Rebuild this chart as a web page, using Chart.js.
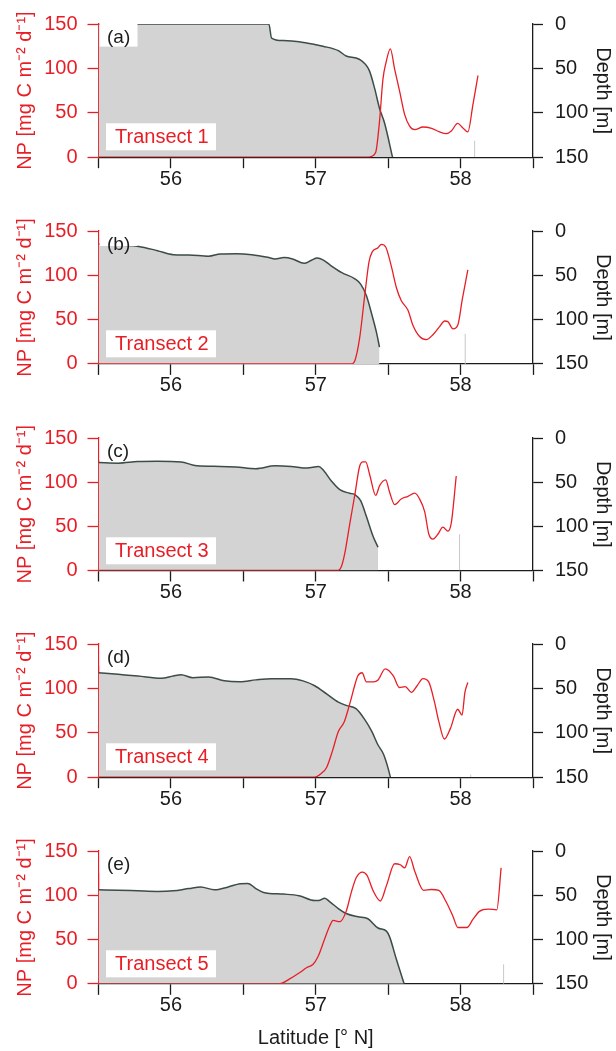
<!DOCTYPE html>
<html><head><meta charset="utf-8">
<script src="https://cdn.jsdelivr.net/npm/chart.js@4.4.1/dist/chart.umd.min.js"></script>
<style>
html,body{margin:0;padding:0;background:#fff;}
#wrap{position:relative;width:616px;height:1051px;overflow:hidden;background:#fff;}
canvas{position:absolute;left:0;}
</style></head><body><div id="wrap"></div>
<script>
// ---------- DATA ----------
const latitudeLabels = [56, 57, 58];
const panelLetters = ['(a)', '(b)', '(c)', '(d)', '(e)'];
const transectNames = ['Transect 1', 'Transect 2', 'Transect 3', 'Transect 4', 'Transect 5'];

// NP [mg C m-2 d-1] along latitude
const npLatA = [55.5, 57.37, 57.385, 57.414, 57.44, 57.464, 57.483, 57.515, 57.545, 57.58, 57.614, 57.648, 57.683, 57.74, 57.80, 57.855, 57.90, 57.936, 57.98, 58.016, 58.05, 58.085, 58.12];
const npA    = [0, 0, 1, 5.5, 40, 88, 105, 122, 99, 73.5, 48, 35, 31, 34, 32.5, 28.5, 26.5, 29.5, 38, 33, 28.5, 59, 92];
const npLatB = [55.5, 57.246, 57.27, 57.303, 57.338, 57.368, 57.39, 57.43, 57.453, 57.483, 57.522, 57.557, 57.59, 57.637, 57.67, 57.717, 57.763, 57.809, 57.855, 57.89, 57.912, 57.947, 57.981, 58.012, 58.05];
const npB    = [0, 0, 3.6, 29, 77, 115.5, 126.5, 131, 135, 132, 110, 86, 71.5, 60.5, 44, 31, 27.5, 33, 42, 48.4, 47.7, 39.6, 44, 73, 106];
const npLatC = [55.5, 57.154, 57.177, 57.2, 57.234, 57.269, 57.303, 57.326, 57.345, 57.372, 57.414, 57.441, 57.483, 57.51, 57.545, 57.59, 57.637, 57.683, 57.717, 57.752, 57.781, 57.809, 57.843, 57.878, 57.912, 57.936, 57.97];
const npC    = [0, 0, 4.4, 19, 52, 85, 118, 123, 123, 108.7, 85, 96, 102.5, 88.5, 74.6, 81, 84, 87.5, 81, 66.6, 41, 35.5, 41, 49, 44.6, 54, 107];
const npLatD = [55.5, 56.993, 57.034, 57.075, 57.115, 57.156, 57.197, 57.238, 57.265, 57.29, 57.32, 57.35, 57.40, 57.43, 57.48, 57.536, 57.577, 57.618, 57.66, 57.70, 57.74, 57.78, 57.82, 57.85, 57.888, 57.93, 57.98, 58.01, 58.03, 58.05];
const npD    = [0, 0, 3.7, 11, 29.4, 51.5, 62.5, 84.5, 101, 114, 117.6, 107.3, 107.3, 109.5, 122, 114, 101, 102, 95.6, 103, 111, 107.3, 84.5, 62.5, 43, 55, 76.5, 70, 95.6, 106.6];
const npLatE = [55.5, 56.75, 56.82, 56.89, 56.936, 56.98, 57.016, 57.062, 57.097, 57.12, 57.166, 57.21, 57.246, 57.28, 57.322, 57.354, 57.395, 57.446, 57.488, 57.545, 57.584, 57.614, 57.648, 57.683, 57.745, 57.798, 57.85, 57.90, 57.947, 57.981, 58.044, 58.085, 58.13, 58.19, 58.25, 58.28];
const npE    = [0, 0, 5.5, 12.7, 18.2, 21.8, 30.9, 50.9, 65.5, 71.6, 70.2, 81.8, 103.6, 120, 126.2, 122.5, 105.5, 93.5, 110.9, 135.6, 134.5, 130.9, 143.6, 127.3, 105.5, 106.5, 105.5, 92.7, 76.4, 63.6, 63.6, 72.7, 81.8, 84.4, 83.6, 130.9];

// Depth [m] profile (grey area) along latitude
const depthLatA = [55.5, 56.676, 56.695, 56.776, 56.885, 56.993, 57.05, 57.156, 57.21, 57.30, 57.37, 57.407, 57.44, 57.476, 57.53];
const depthA    = [0, 0, 15.8, 18.7, 20, 23, 25, 30, 36, 39.7, 52.5, 72.8, 94.8, 112, 150];
const depthLatB = [55.5, 55.777, 55.907, 56.016, 56.124, 56.26, 56.342, 56.45, 56.559, 56.668, 56.72, 56.78, 56.84, 56.92, 56.97, 57.01, 57.05, 57.10, 57.18, 57.27, 57.31, 57.35, 57.39, 57.42, 57.44];
const depthB    = [15, 17.4, 22.2, 26.7, 27, 28.5, 25.9, 25.6, 26.7, 29.6, 31.5, 30, 31.5, 36.5, 33, 30.5, 32.5, 38.5, 47, 54, 60, 73, 96, 115, 131];
const depthLatC = [55.5, 55.636, 55.77, 55.907, 56.07, 56.179, 56.342, 56.45, 56.586, 56.72, 56.83, 56.94, 57.02, 57.05, 57.108, 57.166, 57.234, 57.27, 57.31, 57.35, 57.395, 57.43];
const depthC    = [27.8, 28.5, 26.7, 26.3, 27.1, 31.5, 32.2, 32.9, 34.8, 31.5, 32.2, 34, 32.2, 35.9, 48.7, 58.5, 62.6, 64, 71, 89, 110.9, 123.7];
const depthLatD = [55.5, 55.636, 55.772, 55.934, 56.016, 56.07, 56.152, 56.26, 56.369, 56.477, 56.586, 56.695, 56.83, 56.912, 56.993, 57.075, 57.156, 57.21, 57.278, 57.333, 57.387, 57.428, 57.468, 57.504, 57.515];
const depthD    = [32.4, 34.2, 36, 38.6, 36, 34.6, 37.9, 37.1, 41.5, 42.6, 40.4, 39, 39, 41.5, 47, 56.2, 65.4, 69.1, 72.8, 83.8, 98.5, 113.2, 124.2, 142.6, 150];
const depthLatE = [55.5, 55.636, 55.77, 55.907, 56.016, 56.124, 56.206, 56.30, 56.396, 56.477, 56.532, 56.586, 56.64, 56.776, 56.885, 56.993, 57.02, 57.062, 57.10, 57.156, 57.21, 57.292, 57.36, 57.43, 57.488, 57.51, 57.556, 57.61];
const depthE    = [43.9, 44.3, 45, 45.7, 45, 42.4, 40.6, 43.9, 40.6, 37, 36.6, 42.4, 46.8, 48.7, 50.5, 56, 56, 53.4, 57.8, 65, 70.6, 74.3, 76.5, 87, 90.5, 97, 122, 150];

// thin grey end-of-section marks
const edgeLat   = [58.097, 58.032, 57.993, 58.07, 58.297];
const edgeDepth = [131.5, 116, 109, 147, 128];

// ---------- STYLE / LAYOUT ----------
const RED = 'rgb(232,30,38)';
const INK = '#1c1c1c';
const FILL = 'rgb(211,211,211)';
const BATH = 'rgb(60,76,73)';
const FONT = "'Liberation Sans', Arial, Helvetica, sans-serif";
Chart.defaults.font.family = FONT;
Chart.defaults.font.size = 20;

const plotTops = [20.7, 227.4, 434.0, 640.7, 847.3];
const canvasTops = [0, 207, 414, 620, 827];
const canvasHs = [206, 206, 206, 207, 224];
const plotH = 136.5;
const leftW = 98.5, rightW = 83;
const letterBoxH = [22.6, 15, 22, 22, 22];

const npLats = [npLatA, npLatB, npLatC, npLatD, npLatE];
const nps = [npA, npB, npC, npD, npE];
const dLats = [depthLatA, depthLatB, depthLatC, depthLatD, depthLatE];
const depths = [depthA, depthB, depthC, depthD, depthE];

const labelPlugin = {
  id: 'panelLabel',
  afterDatasetsDraw(chart, args, o) {
    const {ctx, chartArea: a} = chart;
    ctx.save();
    ctx.fillStyle = '#fff';
    ctx.fillRect(a.left + 1, a.top, 38, o.boxH);
    ctx.fillRect(a.left + 7.5, a.top + 99.3, 110, 27);
    ctx.textBaseline = 'middle';
    ctx.textAlign = 'left';
    ctx.fillStyle = INK;
    ctx.font = '19px ' + FONT;
    ctx.fillText(o.letter, a.left + 8.5, a.top + 13.5);
    ctx.fillStyle = RED;
    ctx.font = '20px ' + FONT;
    ctx.fillText(o.name, a.left + 16.5, a.top + 113.5);
    ctx.restore();
  }
};

const wrap = document.getElementById('wrap');
for (let i = 0; i < 5; i++) {
  const cv = document.createElement('canvas');
  const h = canvasHs[i];
  cv.width = 616; cv.height = h;
  cv.style.top = canvasTops[i] + 'px';
  cv.style.width = '616px'; cv.style.height = h + 'px';
  wrap.appendChild(cv);
  const padTop = plotTops[i] - canvasTops[i];
  const xH = h - padTop - plotH;
  const last = i === 4;

  new Chart(cv, {
    type: 'line',
    data: {
      datasets: [
        {
          label: 'NP',
          data: npLats[i].map((x, k) => ({x, y: nps[i][k]})),
          yAxisID: 'y',
          borderColor: RED, borderWidth: 1.3,
          pointRadius: 0, fill: false,
          cubicInterpolationMode: 'monotone'
        },
        {
          label: 'edge',
          data: [{x: edgeLat[i], y: 150}, {x: edgeLat[i], y: edgeDepth[i]}],
          yAxisID: 'yd',
          borderColor: 'rgb(200,200,200)', borderWidth: 1,
          pointRadius: 0, fill: false
        },
        {
          label: 'Depth',
          data: dLats[i].map((x, k) => ({x, y: depths[i][k]})),
          yAxisID: 'yd',
          borderColor: BATH, borderWidth: 1.5,
          backgroundColor: FILL,
          pointRadius: 0,
          fill: {value: 150},
          cubicInterpolationMode: 'monotone'
        }
      ]
    },
    options: {
      responsive: false, animation: false, events: [],
      layout: {padding: {top: padTop, left: 0, right: 0, bottom: 0}},
      plugins: {
        legend: {display: false}, tooltip: {enabled: false},
        panelLabel: {letter: panelLetters[i], name: transectNames[i], boxH: letterBoxH[i]}
      },
      scales: {
        x: {
          type: 'linear', position: 'bottom', min: 55.5, max: 58.5,
          afterFit: s => { s.height = xH; },
          border: {display: true, color: INK, width: 1.3},
          grid: {drawOnChartArea: false, drawTicks: true, tickLength: 11, tickColor: INK, tickWidth: 1.3},
          ticks: {
            stepSize: 0.5, autoSkip: false, maxRotation: 0, color: INK, padding: -1,
            font: {size: 20},
            callback: v => latitudeLabels.some(l => Math.abs(l - v) < 1e-6) ? String(Math.round(v)) : ''
          },
          title: {display: last, text: 'Latitude [° N]', color: INK, font: {size: 20}, padding: {top: 0, bottom: 1}}
        },
        y: {
          type: 'linear', position: 'left', min: 0, max: 150,
          afterFit: s => { s.width = leftW; },
          border: {display: true, color: RED, width: 1.3},
          grid: {drawOnChartArea: false, drawTicks: true, tickLength: 11, tickColor: RED, tickWidth: 1.3},
          ticks: {stepSize: 50, color: RED, padding: 10, font: {size: 20}},
          title: {display: true, text: 'NP [mg C m⁻² d⁻¹]', color: RED, font: {size: 20}, padding: {top: 13, bottom: 0}}
        },
        yd: {
          type: 'linear', position: 'right', min: 0, max: 150, reverse: true,
          afterFit: s => { s.width = rightW; },
          border: {display: true, color: INK, width: 1.3},
          grid: {drawOnChartArea: false, drawTicks: true, tickLength: 10, tickColor: INK, tickWidth: 1.3},
          ticks: {stepSize: 50, color: INK, padding: 12, font: {size: 20}},
          title: {display: true, text: 'Depth [m]', color: INK, font: {size: 20}, padding: {top: 1, bottom: 0}}
        }
      }
    },
    plugins: [labelPlugin]
  });
}
</script>
</body></html>
